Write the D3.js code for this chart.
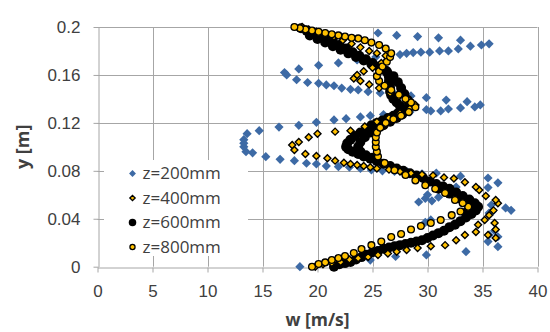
<!DOCTYPE html>
<html>
<head>
<meta charset="utf-8">
<script src="https://cdn.jsdelivr.net/npm/d3@7"></script>
<style>
  body { margin: 0; background: #fff; }
  svg { display: block; font-family: "Open Sans", sans-serif; }
</style>
</head>
<body>
<div id="chart"></div>
<script>
// tick values / labels
const xTicks = [0, 5, 10, 15, 20, 25, 30, 35, 40];
const yTicks = [0, 0.04, 0.08, 0.12, 0.16, 0.2];
const yTickLabels = ["0", "0.04", "0.08", "0.12", "0.16", "0.2"];

const seriesNames = ["z=200mm", "z=400mm", "z=600mm", "z=800mm"];

// [w (m/s), y (m)]
const z200 = [
  [18.4, 0.000], [22.8, 0.004], [24.8, 0.0055], [27.1, 0.0085], [29.9, 0.0098], [33.5, 0.0125],
  [36.4, 0.0167], [35.5, 0.021], [36.4, 0.025], [35.6, 0.0265], [36.1, 0.030], [29.8, 0.037],
  [30.3, 0.039], [35.6, 0.0448], [35.9, 0.046], [37.1, 0.049], [37.6, 0.047], [35.8, 0.0515],
  [29.2, 0.054], [29.8, 0.057], [30.4, 0.055], [31.0, 0.058], [30.0, 0.060], [35.5, 0.066],
  [32.6, 0.0665], [36.4, 0.070], [35.5, 0.074], [33.0, 0.0755], [30.8, 0.078], [29.5, 0.0775],
  [28.2, 0.079], [27.0, 0.0795], [25.9, 0.080], [24.9, 0.0807], [23.9, 0.082], [22.9, 0.083],
  [21.9, 0.0835], [20.8, 0.084], [19.9, 0.0857], [19.0, 0.0863], [17.9, 0.0885], [16.6, 0.0896],
  [15.3, 0.0918], [14.1, 0.095], [13.5, 0.096], [13.3, 0.100], [13.3, 0.103], [13.3, 0.106],
  [13.6, 0.111], [14.7, 0.1135], [16.5, 0.1165], [18.3, 0.118], [19.9, 0.1205], [21.5, 0.1225],
  [22.6, 0.1235], [23.9, 0.125], [24.8, 0.126], [26.0, 0.127], [27.2, 0.128], [28.4, 0.129],
  [29.9, 0.131], [30.3, 0.130], [31.2, 0.130], [31.9, 0.1316], [33.0, 0.1325], [34.3, 0.1333],
  [34.8, 0.135], [33.6, 0.1377], [31.7, 0.139], [29.9, 0.141], [28.5, 0.1425], [27.0, 0.144],
  [25.7, 0.145], [24.6, 0.146], [23.7, 0.1475], [23.0, 0.148], [22.2, 0.149], [21.5, 0.151],
  [20.8, 0.1517], [20.1, 0.153], [19.1, 0.1537], [18.1, 0.156], [17.2, 0.160], [17.0, 0.162],
  [18.3, 0.165], [20.1, 0.168], [21.9, 0.170], [23.6, 0.1725], [25.3, 0.175], [26.5, 0.176],
  [27.5, 0.177], [28.1, 0.178], [28.7, 0.1787], [29.4, 0.179], [30.2, 0.179], [31.1, 0.180],
  [31.9, 0.180], [32.8, 0.1817], [33.9, 0.184], [34.9, 0.185], [35.6, 0.186], [33.0, 0.189],
  [31.0, 0.191], [29.1, 0.192], [27.2, 0.193], [25.5, 0.195]
];

const z400 = [
  [19.8, 0.000], [20.5, 0.002], [21.3, 0.003], [22.1, 0.004], [22.9, 0.006], [23.7, 0.007],
  [24.6, 0.008], [25.5, 0.0097], [26.4, 0.011], [27.2, 0.0125], [28.1, 0.014], [29.1, 0.0156],
  [30.3, 0.017], [31.6, 0.018], [32.6, 0.022], [33.4, 0.0265], [34.4, 0.029], [35.5, 0.0265],
  [36.2, 0.024], [36.2, 0.031], [34.6, 0.035], [36.1, 0.0365], [35.2, 0.039], [35.6, 0.043],
  [36.0, 0.047], [36.4, 0.053], [36.2, 0.0557], [35.3, 0.059], [34.7, 0.064], [34.4, 0.0665],
  [33.4, 0.0705], [32.4, 0.0735], [31.5, 0.0745], [30.5, 0.076], [29.5, 0.077], [28.5, 0.078],
  [27.5, 0.0795], [26.5, 0.081], [25.4, 0.082], [24.8, 0.083], [24.2, 0.084], [23.6, 0.0849],
  [23.0, 0.0857], [22.4, 0.0868], [21.6, 0.0885], [20.9, 0.0905], [19.9, 0.0924], [18.9, 0.094],
  [17.9, 0.0974], [17.7, 0.1016], [18.3, 0.104], [19.2, 0.108], [20.0, 0.111], [21.6, 0.1127],
  [23.0, 0.1135], [24.3, 0.117], [25.4, 0.121], [26.5, 0.124], [27.5, 0.128], [28.4, 0.132],
  [28.9, 0.135], [28.3, 0.139], [27.4, 0.142], [26.6, 0.145], [25.6, 0.149], [24.7, 0.152],
  [23.9, 0.155], [23.3, 0.157], [23.6, 0.160], [24.2, 0.163], [25.0, 0.166], [25.8, 0.170],
  [26.4, 0.173], [26.2, 0.176], [25.4, 0.178], [24.7, 0.180], [23.9, 0.183], [23.1, 0.186],
  [22.3, 0.189], [21.5, 0.192], [20.7, 0.194], [19.9, 0.196], [19.2, 0.198], [18.6, 0.200]
];

// z=600 was measured on both edges of its thick band
const z600 = [
  [21.5, 0.000], [22.0, 0.002], [22.5, 0.003], [23.0, 0.004], [23.5, 0.006],
  [24.0, 0.008], [24.5, 0.010], [25.0, 0.012], [25.5, 0.013], [26.0, 0.015], [26.5, 0.016],
  [27.0, 0.017], [27.5, 0.018], [28.0, 0.019], [28.5, 0.020], [29.0, 0.021], [29.5, 0.022],
  [30.0, 0.024], [30.5, 0.026], [31.0, 0.028], [31.5, 0.030], [32.0, 0.033], [32.5, 0.035],
  [33.0, 0.038], [33.5, 0.041], [34.0, 0.044], [34.4, 0.047], [34.6, 0.050], [34.3, 0.053],
  [34.0, 0.049], [33.6, 0.046], [33.9, 0.052], [33.4, 0.054],
  [33.8, 0.056], [33.2, 0.059], [32.6, 0.062], [32.0, 0.065], [31.4, 0.067], [30.8, 0.069],
  [30.2, 0.071], [29.6, 0.074], [29.0, 0.076], [28.4, 0.078], [27.8, 0.080], [27.2, 0.082],
  [26.6, 0.084], [26.0, 0.086], [25.4, 0.088], [24.8, 0.090], [24.2, 0.092], [23.7, 0.094],
  [23.2, 0.096], [22.8, 0.098], [22.6, 0.100], [22.7, 0.103], [23.0, 0.106], [23.4, 0.109],
  [23.9, 0.112], [24.4, 0.115], [24.9, 0.118], [25.4, 0.120], [25.9, 0.122], [26.4, 0.124],
  [26.9, 0.126], [27.3, 0.128], [27.6, 0.131], [27.5, 0.134], [27.2, 0.137], [26.9, 0.140],
  [26.7, 0.143], [26.6, 0.146], [26.6, 0.149], [26.5, 0.152], [26.5, 0.155], [26.5, 0.158],
  [26.4, 0.161], [26.1, 0.164], [25.6, 0.167], [25.0, 0.170], [24.4, 0.173], [23.8, 0.176],
  [23.2, 0.179], [22.6, 0.182], [22.0, 0.185], [21.4, 0.188], [20.8, 0.191], [20.2, 0.193],
  [19.6, 0.195], [19.0, 0.197], [18.5, 0.199],
  [19.3, 0.193], [20.0, 0.190], [20.7, 0.187], [21.4, 0.184], [22.1, 0.181], [22.8, 0.178],
  [23.5, 0.175], [24.2, 0.172], [24.9, 0.169], [25.6, 0.166], [26.3, 0.163], [26.9, 0.159],
  [27.3, 0.154], [27.6, 0.149], [27.9, 0.144], [28.2, 0.139], [28.3, 0.134], [28.1, 0.130],
  [27.7, 0.127], [27.2, 0.124], [26.6, 0.121], [26.0, 0.118], [25.4, 0.115], [24.8, 0.112],
  [24.3, 0.108], [23.9, 0.104], [23.7, 0.100], [23.9, 0.096], [24.4, 0.093], [25.0, 0.091],
  [31.0, 0.065], [32.0, 0.061], [32.9, 0.057]
];

const z800 = [
  [19.5, 0.000], [20.1, 0.0022], [20.7, 0.0036], [21.3, 0.0056], [21.9, 0.0072], [22.5, 0.0089],
  [23.3, 0.0114], [24.0, 0.0147], [24.9, 0.018], [25.8, 0.021], [26.7, 0.0248], [27.6, 0.0273],
  [28.5, 0.031], [29.4, 0.034], [30.3, 0.0365], [31.2, 0.039], [32.2, 0.043], [33.0, 0.046],
  [33.7, 0.050], [33.2, 0.053], [32.5, 0.0557], [31.6, 0.0615], [30.7, 0.065], [29.8, 0.068],
  [28.9, 0.072], [28.0, 0.0765], [27.0, 0.0805], [26.1, 0.0865], [25.5, 0.092], [25.4, 0.096],
  [25.3, 0.100], [25.3, 0.104], [25.3, 0.108], [25.4, 0.112], [25.7, 0.116], [26.2, 0.120],
  [26.9, 0.123], [27.6, 0.126], [28.3, 0.129], [28.9, 0.133], [28.5, 0.137], [28.0, 0.140],
  [27.4, 0.1435], [26.7, 0.1475], [26.1, 0.151], [25.6, 0.155], [25.4, 0.159], [25.6, 0.163],
  [25.9, 0.167], [26.3, 0.171], [26.6, 0.175], [26.7, 0.178], [26.2, 0.182], [25.6, 0.185],
  [24.9, 0.187], [24.3, 0.189], [23.7, 0.1905], [23.1, 0.191], [22.5, 0.192], [21.9, 0.193],
  [21.3, 0.194], [20.7, 0.195], [20.1, 0.196], [19.5, 0.197], [18.9, 0.198], [18.4, 0.199],
  [17.9, 0.200]
];

const width = 550;
const height = 332;
const margin = ({ top: 27, right: 10, bottom: 65.3, left: 97.5 });

const svg = d3.select("#chart")
  .append("svg")
  .attr("width", width)
  .attr("height", height)
  .attr("viewBox", [0, 0, width, height]);

// Scales
const x = d3.scaleLinear()
  .domain([0, 40])
  .range([margin.left, width - margin.right - 2.5]);

const y = d3.scaleLinear()
  .domain([0, 0.2])
  .range([height - margin.bottom, margin.top]);

const gridColor = "#a6a6a6";
const textColor = "#404040";

// Gridlines
svg.append("g")
  .attr("stroke", gridColor)
  .attr("stroke-width", 1)
  .selectAll("line")
  .data(yTicks.slice(1))
  .join("line")
  .attr("x1", x(0)).attr("x2", x(40))
  .attr("y1", d => Math.round(y(d)) + 0.5).attr("y2", d => Math.round(y(d)) + 0.5);

svg.append("g")
  .attr("stroke", gridColor)
  .attr("stroke-width", 1)
  .selectAll("line")
  .data(xTicks.slice(1))
  .join("line")
  .attr("y1", y(0)).attr("y2", y(0.2))
  .attr("x1", d => Math.round(x(d)) + 0.5).attr("x2", d => Math.round(x(d)) + 0.5);

// Axes
const xAxis = g => g
  .attr("transform", `translate(0,${Math.round(y(0)) + 0.5})`)
  .call(d3.axisBottom(x).tickValues(xTicks).tickSize(5).tickPadding(12).tickSizeOuter(0))
  .call(g => g.selectAll("line, path").attr("stroke", gridColor))
  .call(g => g.selectAll("text").attr("fill", textColor).attr("font-size", 17));

const yAxis = g => g
  .attr("transform", `translate(${Math.round(x(0)) + 0.5},0)`)
  .call(d3.axisLeft(y).tickValues(yTicks).tickFormat((d, i) => yTickLabels[i]).tickSize(5).tickPadding(13).tickSizeOuter(0))
  .call(g => g.selectAll("line, path").attr("stroke", gridColor))
  .call(g => g.selectAll("text").attr("fill", textColor).attr("font-size", 17));

svg.append("g").call(xAxis);
svg.append("g").call(yAxis);

// Axis titles
svg.append("text")
  .attr("x", (x(0) + x(40)) / 2)
  .attr("y", 326)
  .attr("text-anchor", "middle")
  .attr("font-weight", "bold")
  .attr("font-size", 17.5)
  .attr("fill", textColor)
  .text("w [m/s]");

svg.append("text")
  .attr("transform", `translate(29,${(y(0) + y(0.2)) / 2}) rotate(-90)`)
  .attr("text-anchor", "middle")
  .attr("font-weight", "bold")
  .attr("font-size", 18)
  .attr("fill", textColor)
  .text("y [m]");

// Marker styles
const blue = "#3d6aa5";
const gold = "#ffc000";
const diamond = s => `M0,${-s}L${s},0L0,${s}L${-s},0Z`;

const drawers = {
  "z=200mm": (sel, s) => sel.append("path").attr("d", diamond(4.6 * s)).attr("fill", blue),
  "z=400mm": (sel, s) => sel.append("path").attr("d", diamond(3.5 * s)).attr("fill", gold)
    .attr("stroke", "#000").attr("stroke-width", 1.4),
  "z=600mm": (sel, s) => sel.append("circle").attr("r", 5 * s).attr("fill", "#000"),
  "z=800mm": (sel, s) => sel.append("circle").attr("r", 3.4 * s).attr("fill", gold)
    .attr("stroke", "#000").attr("stroke-width", 1.3)
};

// Shapes (z=600 drawn under z=400 so the small diamonds stay visible)
const order = [["z=200mm", z200], ["z=600mm", z600], ["z=400mm", z400], ["z=800mm", z800]];

order.forEach(([name, data]) => {
  svg.append("g")
    .selectAll("g")
    .data(data)
    .join("g")
    .attr("transform", d => `translate(${x(d[0])},${y(d[1])})`)
    .each(function () { drawers[name](d3.select(this), 1); });
});

// Legend
const legend = svg.append("g");
legend.append("rect")
  .attr("x", 104).attr("y", 160)
  .attr("width", 144).attr("height", 96)
  .attr("fill", "#fff");

const rows = legend.selectAll("g")
  .data(seriesNames)
  .join("g")
  .attr("transform", (d, i) => `translate(132.5,${173.5 + i * 24.5})`);

rows.each(function (d) { drawers[d](d3.select(this), 0.75); });

rows.append("text")
  .attr("x", 10)
  .attr("dy", "0.35em")
  .attr("font-size", 17)
  .attr("fill", textColor)
  .text(d => d);
</script>
</body>
</html>
